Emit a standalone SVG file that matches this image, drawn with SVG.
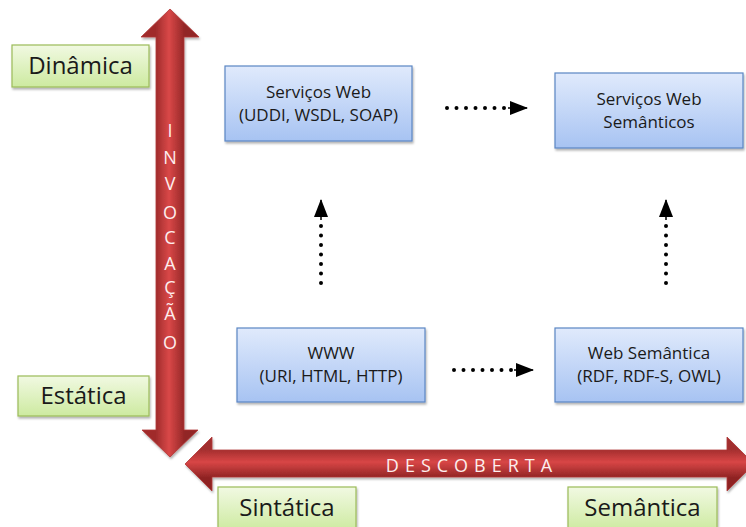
<svg xmlns="http://www.w3.org/2000/svg" width="746" height="527" viewBox="0 0 746 527">
  <defs>
    <linearGradient id="redV" gradientUnits="userSpaceOnUse" x1="156" y1="0" x2="185" y2="0">
      <stop offset="0" stop-color="#a02c2c"/>
      <stop offset="0.45" stop-color="#d94848"/>
      <stop offset="1" stop-color="#912525"/>
    </linearGradient>
    <linearGradient id="redH" gradientUnits="userSpaceOnUse" x1="0" y1="449" x2="0" y2="478">
      <stop offset="0" stop-color="#a12d2d"/>
      <stop offset="0.45" stop-color="#d84646"/>
      <stop offset="1" stop-color="#8e2323"/>
    </linearGradient>
    <linearGradient id="green" x1="0" y1="0" x2="0" y2="1">
      <stop offset="0" stop-color="#f1f9e2"/>
      <stop offset="1" stop-color="#cdeaa0"/>
    </linearGradient>
    <linearGradient id="blue" x1="0" y1="0" x2="0" y2="1">
      <stop offset="0" stop-color="#e0eafc"/>
      <stop offset="1" stop-color="#a7c3f2"/>
    </linearGradient>
    <filter id="shadow" x="-10%" y="-10%" width="120%" height="130%">
      <feDropShadow dx="1" dy="2" stdDeviation="1.2" flood-color="#000" flood-opacity="0.3"/>
    </filter>
    <marker id="head" viewBox="0 0 18 14" refX="17" refY="7" markerWidth="18" markerHeight="14" markerUnits="userSpaceOnUse" orient="auto">
      <path d="M0,0 L18,7 L0,14 Z" fill="#000"/>
    </marker>
    <style>
      .gbox { fill: url(#green); stroke: #9bbb59; stroke-width: 1.2; filter: url(#shadow); }
      .bbox { fill: url(#blue); stroke: #5b86c4; stroke-width: 1.2; filter: url(#shadow); }
      .glabel { font-family: "Open Sans", "Liberation Sans", sans-serif; font-size: 24px; fill: #1a1a1a; text-anchor: middle; }
      .blabel { font-family: "Open Sans", "Liberation Sans", sans-serif; font-size: 17px; fill: #1a1a1a; text-anchor: middle; }
      .axis { font-family: "Open Sans", "Liberation Sans", sans-serif; font-size: 18px; fill: #fdeeee; text-anchor: middle; }
      .dots { fill: none; stroke: #000; stroke-width: 4; stroke-linecap: round; stroke-dasharray: 0 9.5; }
      .stem { stroke: #000; stroke-width: 1.5; }
    </style>
  </defs>

  <rect width="746" height="527" fill="#ffffff"/>

  <!-- Axes -->
  <g id="axis-invocacao">
    <polygon points="170,9 199,37 184,37 184,430 198,430 170,457 142,430 156,430 156,37 141,37" fill="url(#redV)" stroke="#b03535" stroke-width="0.8" filter="url(#shadow)"/>
    <g class="axis">
      <text x="170" y="137">I</text>
      <text x="170" y="164">N</text>
      <text x="170" y="190">V</text>
      <text x="170" y="219">O</text>
      <text x="170" y="244">C</text>
      <text x="170" y="270">A</text>
      <text x="170" y="294">Ç</text>
      <text x="170" y="320">Ã</text>
      <text x="170" y="349">O</text>
    </g>
  </g>

  <g id="axis-descoberta">
    <polygon points="185,464 212,437 212,450 727,450 727,437 754,464 727,491 727,477 212,477 212,491" fill="url(#redH)" stroke="#b03535" stroke-width="0.8" filter="url(#shadow)"/>
    <text class="axis" x="472" y="472" font-size="17" letter-spacing="6">DESCOBERTA</text>
  </g>

  <!-- Axis labels -->
  <g id="label-dinamica">
    <rect class="gbox" x="12" y="45" width="137" height="42"/>
    <text class="glabel" x="80.5" y="74">Dinâmica</text>
  </g>
  <g id="label-estatica">
    <rect class="gbox" x="18" y="376" width="131" height="40"/>
    <text class="glabel" x="83.5" y="404">Estática</text>
  </g>
  <g id="label-sintatica">
    <rect class="gbox" x="218" y="487" width="138" height="44"/>
    <text class="glabel" x="287" y="516">Sintática</text>
  </g>
  <g id="label-semantica">
    <rect class="gbox" x="568" y="487" width="149" height="44"/>
    <text class="glabel" x="642.5" y="516">Semântica</text>
  </g>

  <!-- Technology nodes -->
  <g id="node-servicos-web">
    <rect class="bbox" x="225" y="66" width="187" height="75"/>
    <text class="blabel" x="318.5" y="98">Serviços Web</text>
    <text class="blabel" x="318.5" y="121">(UDDI, WSDL, SOAP)</text>
  </g>
  <g id="node-servicos-web-semanticos">
    <rect class="bbox" x="555" y="73" width="188" height="75"/>
    <text class="blabel" x="649" y="105">Serviços Web</text>
    <text class="blabel" x="649" y="128">Semânticos</text>
  </g>
  <g id="node-www">
    <rect class="bbox" x="237" y="328" width="188" height="74"/>
    <text class="blabel" x="331" y="359">WWW</text>
    <text class="blabel" x="331" y="382">(URI, HTML, HTTP)</text>
  </g>
  <g id="node-web-semantica">
    <rect class="bbox" x="555" y="328" width="188" height="74"/>
    <text class="blabel" x="649" y="359">Web Semântica</text>
    <text class="blabel" x="649" y="382">(RDF, RDF-S, OWL)</text>
  </g>

  <!-- Connectors -->
  <g id="connectors">
    <path class="dots" d="M447,108 L508,108"/>
    <line class="stem" x1="508" y1="108" x2="527" y2="108" marker-end="url(#head)"/>
    <path class="dots" d="M454,370 L514,370"/>
    <line class="stem" x1="514" y1="370" x2="533" y2="370" marker-end="url(#head)"/>
    <path class="dots" d="M321,283 L321,220"/>
    <line class="stem" x1="321" y1="220" x2="321" y2="200" marker-end="url(#head)"/>
    <path class="dots" d="M666,283 L666,220"/>
    <line class="stem" x1="666" y1="220" x2="666" y2="200" marker-end="url(#head)"/>
  </g>
</svg>
